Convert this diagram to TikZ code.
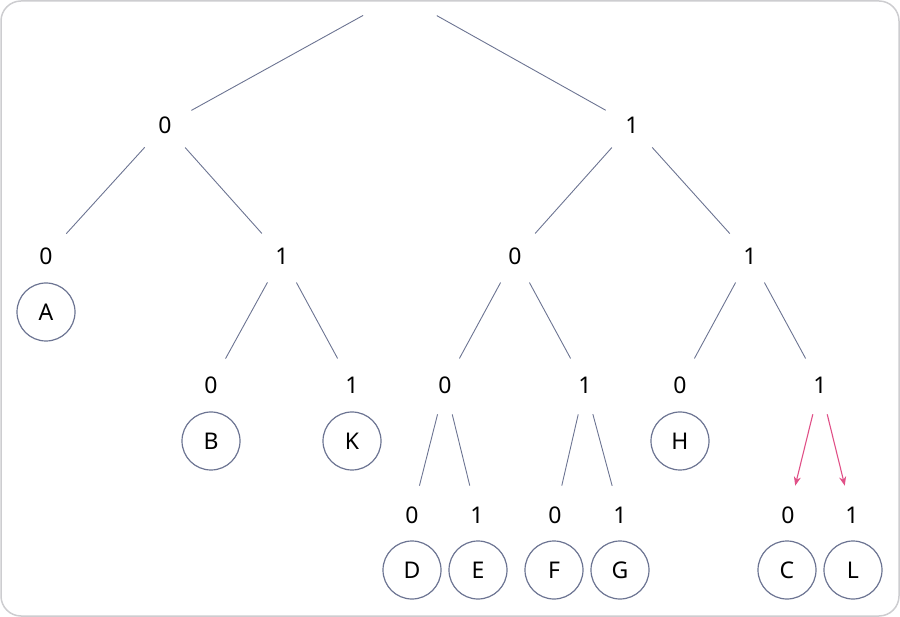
\documentclass[tikz,border=0pt]{standalone}
\usepackage{fontspec}
\setmainfont{Noto Sans}
\usepackage{xcolor}
\usepackage{tikz}
\usetikzlibrary{arrows.meta}
\definecolor{edgegray}{RGB}{108,116,146}
\definecolor{framegray}{RGB}{205,205,208}
\definecolor{hotpink}{RGB}{224,80,135}

\begin{document}
\begin{tikzpicture}[
  x=1pt, y=-1pt,
  every node/.style={font=\fontsize{23}{27}\selectfont},
  bit/.style={circle, minimum size=60pt, inner sep=0pt},
  leaf/.style={circle, draw=edgegray, line width=1.2pt, minimum size=58pt, inner sep=0pt},
  edge/.style={draw=edgegray, line width=0.9pt},
  hot/.style={draw=hotpink, line width=1.1pt, -{Stealth[length=9pt,width=7pt]}}
]
\useasboundingbox (0,0) rectangle (900,617);
\draw[framegray, line width=1.5pt, rounded corners=20pt] (1,1) rectangle (899,616);

% bits, level by level
\node[bit, minimum size=84pt] (root) at (400,-5) {};
\node[bit] (b0) at (165,125) {0};
\node[bit] (b1) at (632,125) {1};
\node[bit] (b00) at (46,256) {0};
\node[bit] (b01) at (282,256) {1};
\node[bit] (b10) at (515,256) {0};
\node[bit] (b11) at (750,256) {1};
\node[bit] (b010) at (211,385) {0};
\node[bit] (b011) at (352,385) {1};
\node[bit] (b100) at (445,385) {0};
\node[bit] (b101) at (585,385) {1};
\node[bit] (b110) at (680,385) {0};
\node[bit] (b111) at (820,385) {1};
\node[bit] (b1000) at (412,515) {0};
\node[bit] (b1001) at (477,515) {1};
\node[bit] (b1010) at (555,515) {0};
\node[bit] (b1011) at (620,515) {1};
\node[bit] (b1110) at (788,515) {0};
\node[bit] (b1111) at (852,515) {1};

% symbols
\node[leaf] (symA) at (46,312) {A};
\node[leaf] (symB) at (211,441) {B};
\node[leaf] (symK) at (352,441) {K};
\node[leaf] (symH) at (680,441) {H};
\node[leaf] (symD) at (412,570) {D};
\node[leaf] (symE) at (478,570) {E};
\node[leaf] (symF) at (554,570) {F};
\node[leaf] (symG) at (620,570) {G};
\node[leaf] (symC) at (787,570) {C};
\node[leaf] (symL) at (853,570) {L};

% branches
\draw[edge] (root) -- (b0);
\draw[edge] (root) -- (b1);
\draw[edge] (b0) -- (b00);
\draw[edge] (b0) -- (b01);
\draw[edge] (b1) -- (b10);
\draw[edge] (b1) -- (b11);
\draw[edge] (b01) -- (b010);
\draw[edge] (b01) -- (b011);
\draw[edge] (b10) -- (b100);
\draw[edge] (b10) -- (b101);
\draw[edge] (b11) -- (b110);
\draw[edge] (b11) -- (b111);
\draw[edge] (b100) -- (b1000);
\draw[edge] (b100) -- (b1001);
\draw[edge] (b101) -- (b1010);
\draw[edge] (b101) -- (b1011);
\draw[hot] (b111) -- (b1110);
\draw[hot] (b111) -- (b1111);
\end{tikzpicture}
\end{document}
